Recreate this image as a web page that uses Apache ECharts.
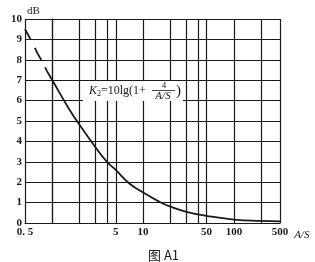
<!DOCTYPE html>
<html>
<head>
<meta charset="utf-8">
<script src="https://cdn.jsdelivr.net/npm/echarts@6/dist/echarts.min.js"></script>
<style>
  html, body { margin: 0; background: #fff; }
  #chart { width: 315px; height: 262px; }
</style>
</head>
<body>
<div id="chart"></div>
<script>
// A/S values where vertical grid lines are drawn
const gridValues = [0.5, 1, 2, 3, 4, 5, 10, 20, 30, 40, 50, 100, 200, 500];
const tickValues = [0.5, 5, 10, 50, 100, 500];
const tickLabels = ["0. 5", "5", "10", "50", "100", "500"];

// curve: dashed start, then solid
const dashedX = [0.5, 0.6, 0.7, 0.8, 0.87];
const dashedY = [9.5, 8.85, 8.25, 7.8, 7.45];
const curveX = [0.87, 1, 1.5, 2, 3, 4, 5, 7, 10, 15, 20, 30, 50, 100, 200, 500];
const curveY = [7.45, 7.0, 5.65, 4.8, 3.7, 3.0, 2.6, 1.95, 1.5, 1.05, 0.8, 0.55, 0.35, 0.17, 0.1, 0.08];

const ink = "#1a1a1a";
const serif = "'Liberation Serif', 'DejaVu Serif', serif";

// log scale as drawn; the last decade past 200 is squeezed in the original
function pos(v) {
  const l = Math.log10(v);
  const knee = Math.log10(200);
  return l <= knee ? l : knee + (l - knee) * 0.52;
}

function labelFor(value) {
  let best = 0;
  tickValues.forEach((v, i) => {
    if (Math.abs(pos(v) - value) < Math.abs(pos(tickValues[best]) - value)) best = i;
  });
  return tickLabels[best];
}

const chart = echarts.init(document.getElementById("chart"));

chart.setOption({
  animation: false,
  backgroundColor: "#ffffff",
  title: {
    text: "图 A1",
    left: 143,
    top: 244,
    textStyle: { fontFamily: "'Noto Sans CJK SC', sans-serif", fontSize: 13, fontWeight: "normal", color: ink },
  },
  grid: { left: 25, right: 35, top: 19, bottom: 39 },
  xAxis: {
    type: "value",
    min: pos(0.5),
    max: pos(500),
    name: "A/S",
    nameLocation: "end",
    nameGap: 9,
    nameTextStyle: {
      fontFamily: serif, fontStyle: "italic", fontSize: 11, color: ink,
      verticalAlign: "top", padding: [7, 0, 0, 0],
    },
    axisLine: { lineStyle: { color: ink, width: 1.2 } },
    axisTick: { show: false, customValues: gridValues.map(pos) },
    axisLabel: {
      customValues: tickValues.map(pos),
      formatter: labelFor,
      margin: 4,
      fontFamily: serif, fontSize: 11, fontWeight: "bold", color: ink,
    },
    splitLine: { show: true, lineStyle: { color: ink, width: 1.2 } },
  },
  yAxis: {
    type: "value",
    min: 0,
    max: 10,
    interval: 1,
    axisLine: { show: true, lineStyle: { color: ink, width: 1.2 } },
    axisTick: { show: false },
    axisLabel: { margin: 3, fontFamily: serif, fontSize: 11, fontWeight: "bold", color: ink },
    splitLine: { show: true, lineStyle: { color: ink, width: 1.2 } },
  },
  series: [
    {
      type: "line",
      data: dashedX.map((x, i) => [pos(x), dashedY[i]]),
      symbol: "none",
      smooth: true,
      lineStyle: { color: ink, width: 1.8, type: [12, 9, 14, 8] },
      z: 3,
    },
    {
      type: "line",
      data: curveX.map((x, i) => [pos(x), curveY[i]]),
      symbol: "none",
      smooth: true,
      lineStyle: { color: ink, width: 1.8 },
      z: 3,
    },
  ],
  graphic: [
    { type: "text", x: 27, y: 11, style: { text: "dB", fontFamily: serif, fontSize: 11, fill: ink, verticalAlign: "middle" } },
    { type: "rect", shape: { x: 83, y: 81, width: 100, height: 20 }, style: { fill: "#fff" }, z: 10 },
    {
      type: "text", x: 89, y: 91, z: 11,
      style: {
        text: "{k|K}{s|2}{n|=10lg(1+}",
        verticalAlign: "middle",
        rich: {
          k: { fontFamily: serif, fontStyle: "italic", fontSize: 12, fill: ink },
          s: { fontFamily: serif, fontSize: 8, fill: ink, padding: [6, 0, 0, 0] },
          n: { fontFamily: serif, fontSize: 12, fill: ink },
        },
      },
    },
    { type: "text", x: 164, y: 86, z: 11, style: { text: "4", fontFamily: serif, fontSize: 9, fill: ink, align: "center", verticalAlign: "middle" } },
    { type: "line", shape: { x1: 152, y1: 90.5, x2: 175, y2: 90.5 }, style: { stroke: ink, lineWidth: 0.8 }, z: 11 },
    { type: "text", x: 163, y: 96, z: 11, style: { text: "A/S", fontFamily: serif, fontStyle: "italic", fontSize: 11, fill: ink, align: "center", verticalAlign: "middle" } },
    { type: "text", x: 176, y: 91, z: 11, style: { text: ")", fontFamily: serif, fontSize: 15, fill: ink, verticalAlign: "middle" } },
  ],
});
</script>
</body>
</html>
